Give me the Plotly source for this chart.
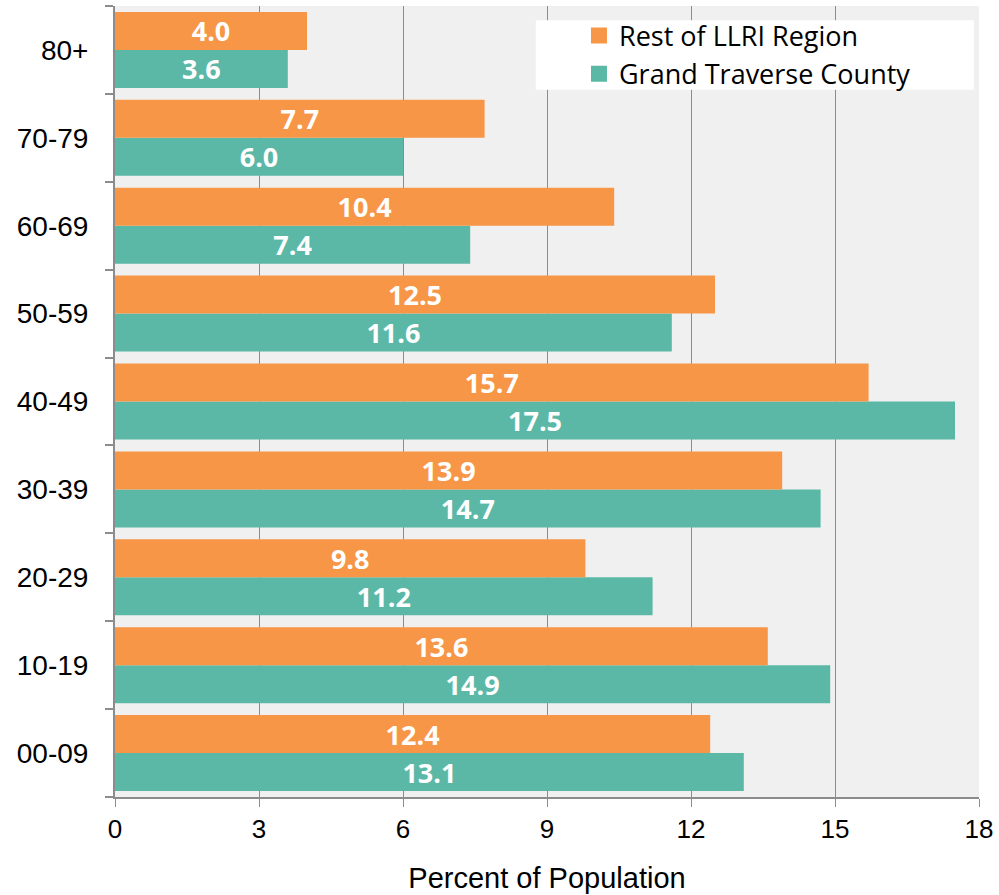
import plotly.graph_objects as go

categories = ["00-09", "10-19", "20-29", "30-39", "40-49", "50-59", "60-69", "70-79", "80+"]
rest_llri = [12.4, 13.6, 9.8, 13.9, 15.7, 12.5, 10.4, 7.7, 4.0]
grand_traverse = [13.1, 14.9, 11.2, 14.7, 17.5, 11.6, 7.4, 6.0, 3.6]
x_ticks = [0, 3, 6, 9, 12, 15, 18]

ORANGE = "#F79646"
TEAL = "#5BB8A6"
GRID = "#8C8C8C"
LABEL_FONT = dict(family="Open Sans", size=27, color="white", weight="bold")

fig = go.Figure()
fig.add_trace(go.Bar(
    y=categories, x=grand_traverse, orientation="h", name="Grand Traverse County",
    marker=dict(color=TEAL, line=dict(width=0)),
    texttemplate="%{x:.1f}", textposition="inside", insidetextanchor="middle",
    textangle=0, textfont=LABEL_FONT, constraintext="none", showlegend=False,
))
fig.add_trace(go.Bar(
    y=categories, x=rest_llri, orientation="h", name="Rest of LLRI Region",
    marker=dict(color=ORANGE, line=dict(width=0)),
    texttemplate="%{x:.1f}", textposition="inside", insidetextanchor="middle",
    textangle=0, textfont=LABEL_FONT, constraintext="none", showlegend=False,
))
# legend-only entries (larger square swatches)
fig.add_trace(go.Scatter(x=[None], y=[None], mode="markers", name="Rest of LLRI Region",
                         marker=dict(symbol="square", size=19, color=ORANGE)))
fig.add_trace(go.Scatter(x=[None], y=[None], mode="markers", name="Grand Traverse County",
                         marker=dict(symbol="square", size=19, color=TEAL)))

fig.update_layout(
    width=999, height=895,
    margin=dict(l=115, r=20, t=6, b=98),
    paper_bgcolor="white",
    plot_bgcolor="#F0F0F0",
    barmode="group", bargap=0.135, bargroupgap=0,
    font=dict(family="Liberation Sans", color="black"),
    showlegend=True,
    legend=dict(
        x=0.537, y=0.993, xanchor="left", yanchor="top",
        bgcolor="rgba(0,0,0,0)", font=dict(family="Open Sans", size=27, color="black"),
        itemsizing="trace", tracegroupgap=0,
    ),
    shapes=[dict(type="rect", xref="paper", yref="paper",
                 x0=0.487, x1=0.994, y0=0.894, y1=0.982,
                 fillcolor="white", line=dict(width=0), layer="above")],
    xaxis=dict(
        range=[0, 18], tickvals=x_ticks, ticktext=[str(v) for v in x_ticks],
        showgrid=True, gridcolor=GRID, gridwidth=1,
        showline=True, linecolor=GRID, linewidth=2,
        ticks="outside", ticklen=8, tickcolor=GRID, tickwidth=1,
        tickfont=dict(size=26, family="Liberation Sans"),
        title=dict(text="Percent of Population", font=dict(size=29, family="Liberation Sans"), standoff=24),
        zeroline=False,
    ),
    yaxis=dict(
        type="category", categoryorder="array", categoryarray=categories,
        showgrid=False, showline=True, linecolor=GRID, linewidth=2,
        ticks="outside", tickson="boundaries", ticklen=8, tickcolor=GRID, tickwidth=2,
        tickfont=dict(size=28, family="Liberation Sans"), ticklabelstandoff=19,
    ),
)

fig.write_html("out.html", config={"displayModeBar": False},
               post_script="document.body.style.margin='0';")
